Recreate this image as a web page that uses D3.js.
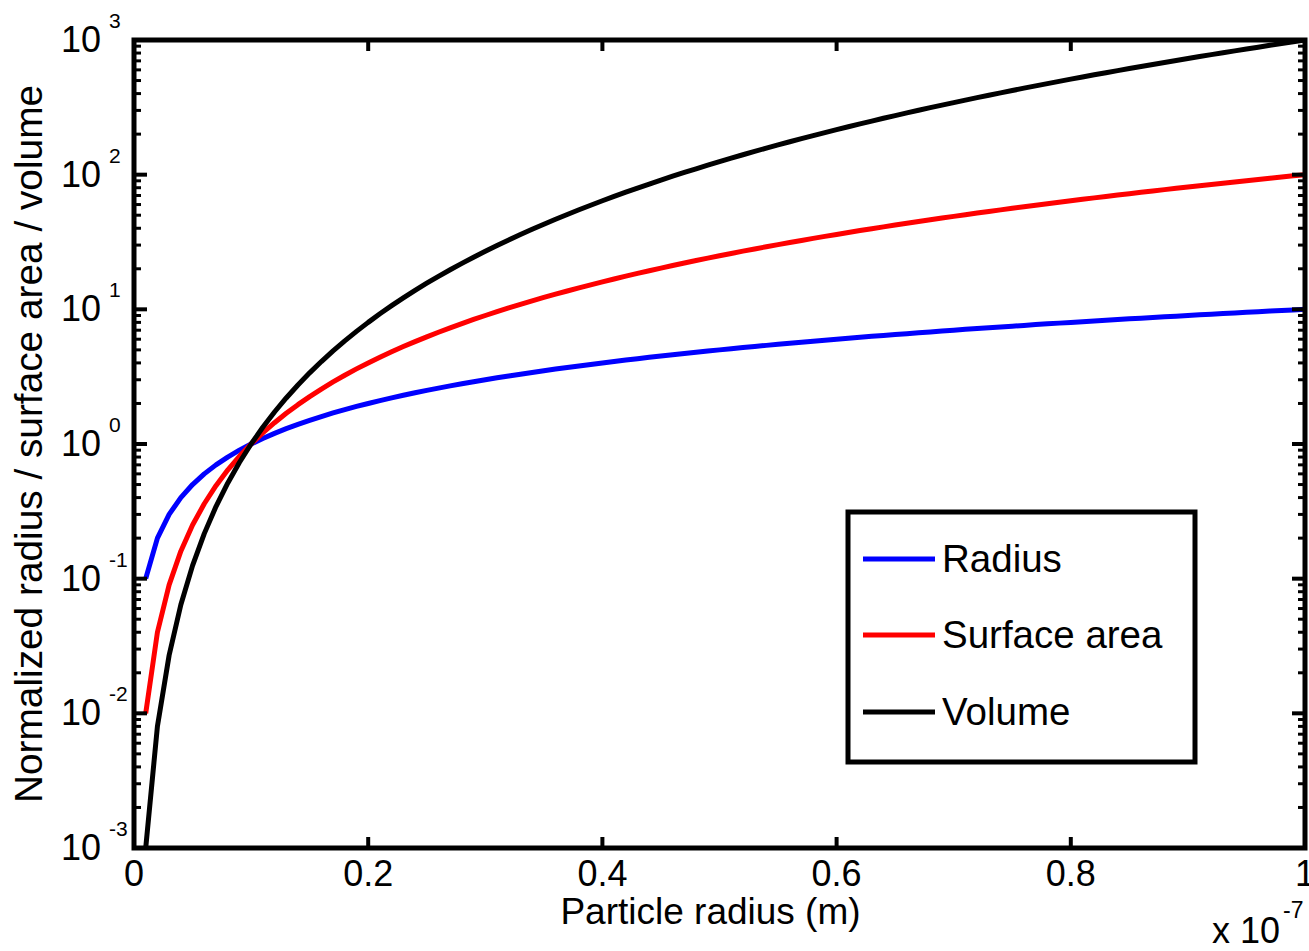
<!DOCTYPE html>
<html>
<head>
<meta charset="utf-8">
<script src="https://cdn.jsdelivr.net/npm/d3@7"></script>
<style>
html,body{margin:0;padding:0;background:#fff;}
svg{display:block;}
text{font-family:"Liberation Sans",Arial,Helvetica,sans-serif;fill:#000;}
</style>
</head>
<body>
<svg id="chart" width="1309" height="951"></svg>
<script>
// Particle radius (x 1e-7 m)
const radiusX = [0.01,0.02,0.03,0.04,0.05,0.06,0.07,0.08,0.09,0.10,
0.11,0.12,0.13,0.14,0.15,0.16,0.17,0.18,0.19,0.20,
0.21,0.22,0.23,0.24,0.25,0.26,0.27,0.28,0.29,0.30,
0.31,0.32,0.33,0.34,0.35,0.36,0.37,0.38,0.39,0.40,
0.41,0.42,0.43,0.44,0.45,0.46,0.47,0.48,0.49,0.50,
0.51,0.52,0.53,0.54,0.55,0.56,0.57,0.58,0.59,0.60,
0.61,0.62,0.63,0.64,0.65,0.66,0.67,0.68,0.69,0.70,
0.71,0.72,0.73,0.74,0.75,0.76,0.77,0.78,0.79,0.80,
0.81,0.82,0.83,0.84,0.85,0.86,0.87,0.88,0.89,0.90,
0.91,0.92,0.93,0.94,0.95,0.96,0.97,0.98,0.99,1.00];

const radiusValues = [0.1,0.2,0.3,0.4,0.5,0.6,0.7,0.8,0.9,1,
1.1,1.2,1.3,1.4,1.5,1.6,1.7,1.8,1.9,2,
2.1,2.2,2.3,2.4,2.5,2.6,2.7,2.8,2.9,3,
3.1,3.2,3.3,3.4,3.5,3.6,3.7,3.8,3.9,4,
4.1,4.2,4.3,4.4,4.5,4.6,4.7,4.8,4.9,5,
5.1,5.2,5.3,5.4,5.5,5.6,5.7,5.8,5.9,6,
6.1,6.2,6.3,6.4,6.5,6.6,6.7,6.8,6.9,7,
7.1,7.2,7.3,7.4,7.5,7.6,7.7,7.8,7.9,8,
8.1,8.2,8.3,8.4,8.5,8.6,8.7,8.8,8.9,9,
9.1,9.2,9.3,9.4,9.5,9.6,9.7,9.8,9.9,10];

const surfaceValues = [0.01,0.04,0.09,0.16,0.25,0.36,0.49,0.64,0.81,1,
1.21,1.44,1.69,1.96,2.25,2.56,2.89,3.24,3.61,4,
4.41,4.84,5.29,5.76,6.25,6.76,7.29,7.84,8.41,9,
9.61,10.24,10.89,11.56,12.25,12.96,13.69,14.44,15.21,16,
16.81,17.64,18.49,19.36,20.25,21.16,22.09,23.04,24.01,25,
26.01,27.04,28.09,29.16,30.25,31.36,32.49,33.64,34.81,36,
37.21,38.44,39.69,40.96,42.25,43.56,44.89,46.24,47.61,49,
50.41,51.84,53.29,54.76,56.25,57.76,59.29,60.84,62.41,64,
65.61,67.24,68.89,70.56,72.25,73.96,75.69,77.44,79.21,81,
82.81,84.64,86.49,88.36,90.25,92.16,94.09,96.04,98.01,100];

const volumeValues = [0.001,0.008,0.027,0.064,0.125,0.216,0.343,0.512,0.729,1,
1.331,1.728,2.197,2.744,3.375,4.096,4.913,5.832,6.859,8,
9.261,10.648,12.167,13.824,15.625,17.576,19.683,21.952,24.389,27,
29.791,32.768,35.937,39.304,42.875,46.656,50.653,54.872,59.319,64,
68.921,74.088,79.507,85.184,91.125,97.336,103.823,110.592,117.649,125,
132.651,140.608,148.877,157.464,166.375,175.616,185.193,195.112,205.379,216,
226.981,238.328,250.047,262.144,274.625,287.496,300.763,314.432,328.509,343,
357.911,373.248,389.017,405.224,421.875,438.976,456.533,474.552,493.039,512,
531.441,551.368,571.787,592.704,614.125,636.056,658.503,681.472,704.969,729,
753.571,778.688,804.357,830.584,857.375,884.736,912.673,941.192,970.299,1000];

const seriesNames = ["Radius","Surface area","Volume"];
const seriesColors = ["#0000ff","#ff0000","#000000"];

const xTicks = [0,0.2,0.4,0.6,0.8,1];
const xTickLabels = ["0","0.2","0.4","0.6","0.8","1"];
const yTickExponents = [-3,-2,-1,0,1,2,3];

const svg = d3.select("#chart");
const X0 = 134, X1 = 1305, Y0 = 40, Y1 = 848;

const x = d3.scaleLinear().domain([0,1]).range([X0,X1]);
const y = d3.scaleLog().domain([1e-3,1e3]).range([Y1,Y0]);

const series = [radiusValues, surfaceValues, volumeValues];

svg.append("defs").append("clipPath").attr("id","clip")
  .append("rect").attr("x",X0).attr("y",Y0).attr("width",X1-X0).attr("height",Y1-Y0);

const line = d3.line().x(d=>x(d[0])).y(d=>y(d[1]));

const g = svg.append("g").attr("clip-path","url(#clip)");
series.forEach((vals,i)=>{
  g.append("path")
    .datum(radiusX.map((xv,j)=>[xv,vals[j]]))
    .attr("fill","none")
    .attr("stroke",seriesColors[i])
    .attr("stroke-width",5)
    .attr("stroke-linejoin","round")
    .attr("d",line);
});

// ticks
const tg = svg.append("g").attr("stroke","#000");
xTicks.forEach(t=>{
  tg.append("line").attr("x1",x(t)).attr("x2",x(t)).attr("y1",Y1).attr("y2",Y1-11).attr("stroke-width",4);
  tg.append("line").attr("x1",x(t)).attr("x2",x(t)).attr("y1",Y0).attr("y2",Y0+11).attr("stroke-width",4);
});
yTickExponents.forEach(e=>{
  const v = Math.pow(10,e);
  tg.append("line").attr("x1",X0).attr("x2",X0+13).attr("y1",y(v)).attr("y2",y(v)).attr("stroke-width",4);
  tg.append("line").attr("x1",X1).attr("x2",X1-13).attr("y1",y(v)).attr("y2",y(v)).attr("stroke-width",4);
  if (e < 3) {
    for (let m=2;m<=9;m++){
      const mv = m*v;
      tg.append("line").attr("x1",X0).attr("x2",X0+7).attr("y1",y(mv)).attr("y2",y(mv)).attr("stroke-width",3);
      tg.append("line").attr("x1",X1).attr("x2",X1-7).attr("y1",y(mv)).attr("y2",y(mv)).attr("stroke-width",3);
    }
  }
});

// axes box
svg.append("rect").attr("x",X0).attr("y",Y0).attr("width",X1-X0).attr("height",Y1-Y0)
  .attr("fill","none").attr("stroke","#000").attr("stroke-width",5);

// x tick labels
xTicks.forEach((t,i)=>{
  svg.append("text").attr("x",x(t)).attr("y",886).attr("text-anchor","middle")
    .attr("font-size",36).text(xTickLabels[i]);
});

// y tick labels
yTickExponents.forEach(e=>{
  const yy = y(Math.pow(10,e));
  svg.append("text").attr("x",101).attr("y",yy+12).attr("text-anchor","end")
    .attr("font-size",36).text("10");
  svg.append("text").attr("x",109).attr("y",yy-12).attr("text-anchor","start")
    .attr("font-size",21).text(String(e));
});

// axis labels
svg.append("text").attr("x",(X0+X1)/2 - 9).attr("y",924).attr("text-anchor","middle")
  .attr("font-size",37).text("Particle radius (m)");
svg.append("text").attr("transform","translate(42,444) rotate(-90)").attr("text-anchor","middle")
  .attr("font-size",38.8).text("Normalized radius / surface area / volume");

// x10^-7 multiplier
svg.append("text").attr("x",1280).attr("y",943).attr("text-anchor","end")
  .attr("font-size",36).text("x 10");
svg.append("text").attr("x",1283).attr("y",918).attr("text-anchor","start")
  .attr("font-size",23).text("-7");

// legend
const L = {x:848, y:512, w:347, h:250};
svg.append("rect").attr("x",L.x).attr("y",L.y).attr("width",L.w).attr("height",L.h)
  .attr("fill","#fff").attr("stroke","#000").attr("stroke-width",5);
const legY = [559,635,712];
seriesNames.forEach((n,i)=>{
  svg.append("line").attr("x1",863).attr("x2",935).attr("y1",legY[i]).attr("y2",legY[i])
    .attr("stroke",seriesColors[i]).attr("stroke-width",5);
  svg.append("text").attr("x",942).attr("y",legY[i]+13).attr("font-size",38.5).text(n);
});
</script>
</body>
</html>
